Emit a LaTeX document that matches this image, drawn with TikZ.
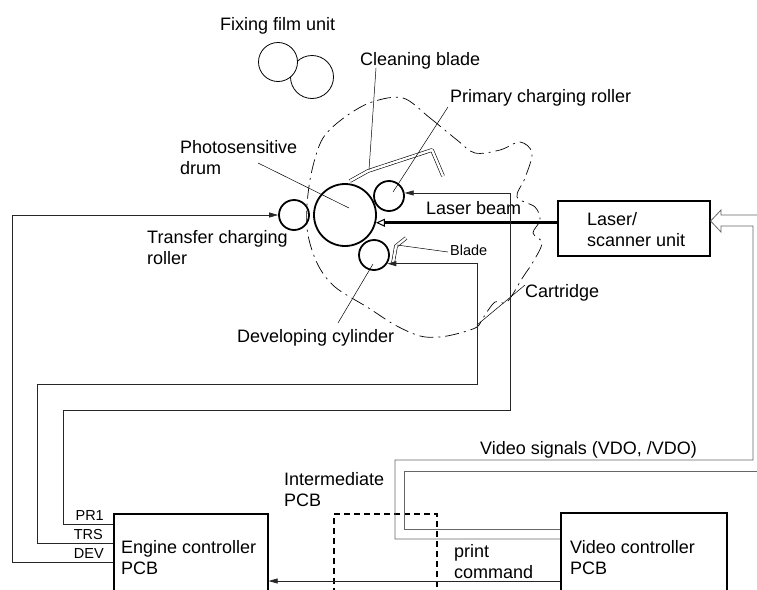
\documentclass[tikz,border=0pt]{standalone}
\usepackage{fontspec}
\setmainfont{Liberation Sans}
\usetikzlibrary{arrows.meta, calc, positioning}
\tikzset{
  txt/.style={font=\fontsize{18}{21.5}\selectfont, inner sep=0pt, align=left},
  tiny/.style={font=\fontsize{14.5}{16}\selectfont, inner sep=0pt},
  roller/.style={circle, draw, line width=1.8pt, inner sep=0pt, minimum size=#1},
  roller/.default=30pt,
  wire/.style={black!85, line width=0.7pt},
  vwire/.style={black!60, line width=0.8pt},
  sig/.style={-{Triangle[length=9pt,width=5pt]}},
  lead/.style={line width=0.5pt},
  pcb/.style={draw, line width=1.6pt, anchor=north west, inner sep=0pt},
  blade/.style={double, double distance=2.4pt, line width=0.6pt, line join=round},
  cart/.style={dash pattern=on 14pt off 5pt on 2pt off 5pt, line width=0.7pt},
}
\begin{document}
\begin{tikzpicture}[x=1pt,y=-1pt]
\useasboundingbox (0,0) rectangle (757,589);
% cartridge outline
\draw[cart] plot[smooth cycle, tension=0.55] coordinates {(403,98) (430,118) (457,140) (475,153)
  (500,150) (520,142) (532,153) (525,178) (517,197) (535,207) (540,220) (533,233) (542,243)
  (533,262) (523,277) (507,302) (495,302) (483,318) (477,327) (460,333) (440,337) (420,336)
  (395,325) (367,307) (335,287) (318,265) (308,235) (307,205) (312,170) (323,138) (345,117) (372,102)};
% fixing film unit
\node[circle, draw, line width=0.8pt, fill=white, minimum size=43pt] (fix2) at (312,77) {};
\node[circle, draw, line width=0.8pt, fill=white, minimum size=39pt] (fix1) at (278,62) {};
% blades
\draw[blade] (350,181) -- (368,171) -- (432,150) -- (443,176);
\draw[blade] (393,263) -- (396,246) -- (406,238);
% rollers
\node[roller=62pt] (drum) at (345,215) {};
\node[roller] (pcr) at (389,196) {};
\node[roller] (tcr) at (294,215) {};
\node[roller] (dev) at (374,255) {};
% boxes
\node[pcb, minimum width=152, minimum height=55] (lsu) at (557,200) {};
\node[pcb, minimum width=154, minimum height=110] (ecb) at (113,513) {};
\node[pcb, minimum width=166, minimum height=110] (vcb) at (560,512) {};
\node[pcb, dash pattern=on 6pt off 4pt, minimum width=103, minimum height=110] (ipcb) at (333,513) {};
% texts
\node[txt, anchor=base west] (fixtxt) at (220,30) {Fixing film unit};
\node[txt, anchor=base west] (cbtxt) at (360,65) {Cleaning blade};
\node[txt, anchor=base west] (pcrtxt) at (450,102) {Primary charging roller};
\node[txt, anchor=north west] (drumtxt) at (180,140) {Photosensitive\\drum};
\node[txt, anchor=north west] (tcrtxt) at (147,230) {Transfer charging\\roller};
\node[txt, anchor=base west] (beamtxt) at (426,214) {Laser beam};
\node[tiny, anchor=base west] (bladetxt) at (450,255) {Blade};
\node[txt, anchor=base west] (carttxt) at (525,297) {Cartridge};
\node[txt, anchor=base west] (devtxt) at (237,342) {Developing cylinder};
\node[txt, anchor=north west] (lsutxt) at (587,212) {Laser/\\scanner unit};
\node[txt, anchor=base west] (vdotxt) at (480,454) {Video signals (VDO, /VDO)};
\node[txt, anchor=north west] (ipcbtxt) at (284,472) {Intermediate\\PCB};
\node[txt, anchor=north west] (ecbtxt) at (121,540) {Engine controller\\PCB};
\node[txt, anchor=north west] (vcbtxt) at (570,540) {Video controller\\PCB};
\node[txt, anchor=north west] (prttxt) at (454,544) {print\\command};
\node[tiny, anchor=base east] (pr1) at (104,520) {PR1};
\node[tiny, anchor=base east] (trs) at (103,539) {TRS};
\node[tiny, anchor=base east] (devl) at (104,558) {DEV};
% leaders
\draw[lead] ($(cbtxt.base west)+(16,3)$) -- (369,170);
\draw[lead] ($(pcrtxt.base west)+(-2,5)$) -- ($(pcr)+(4,-4)$);
\draw[lead] ($(drumtxt.north west)+(78,23)$) -- ($(drum)+(4,-7)$);
\draw[lead] ($(devtxt.base west)+(101,-19)$) -- ($(dev)+(-1,9)$);
\draw[lead] ($(carttxt.base west)+(0,-12)$) -- (477,325);
\draw[lead] ($(bladetxt.base west)+(-2,-3)$) -- (397,245);
% laser beam
\draw[line width=3pt, -{Triangle[open, length=9pt, width=8pt, line width=1pt]}] (lsu.west |- drum.-14) -- (drum.-14);
% high voltage lines
\draw[wire, sig] (ecb.west |- 0,562) -| (12,215) -- (tcr.west);
\draw[wire, sig] (ecb.west |- 0,543) -| (37,384) -| (477,0 |- dev.-33) -- (dev.-33);
\draw[wire, sig] (ecb.west |- 0,524) -| (63,410) -| (510,0 |- pcr.11) -- (pcr.11);
% video signals
\draw[vwire] (757,215) -- (721,215) -- (721,210) -- (lsu.east |- 0,221) -- (721,232) -- (721,226)
  -| (753,460) -| (395,539) -- (vcb.west |- 0,539);
\draw[vwire] (757,471) -| (404,529) -- (vcb.west |- 0,529);
\draw[wire, sig] (vcb.west |- 0,581) -- (ecb.east |- 0,581);
\end{tikzpicture}
\end{document}
